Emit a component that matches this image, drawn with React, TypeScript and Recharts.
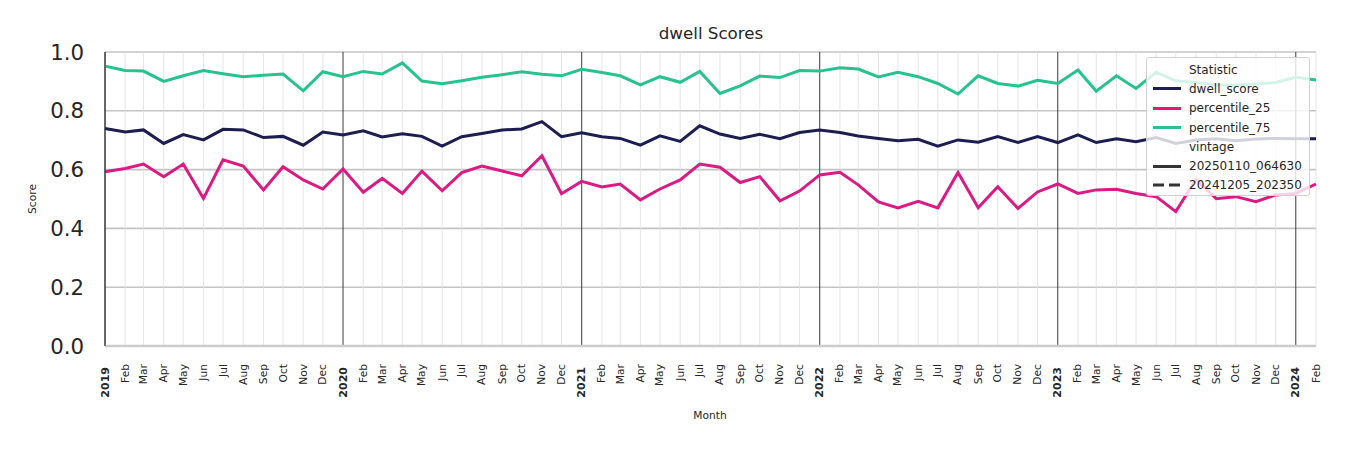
import React from "react";
import { LineChart, Line, XAxis, YAxis, CartesianGrid, Legend } from "recharts";

const months = [
  "2019-01","2019-02","2019-03","2019-04","2019-05","2019-06","2019-07","2019-08","2019-09","2019-10","2019-11","2019-12",
  "2020-01","2020-02","2020-03","2020-04","2020-05","2020-06","2020-07","2020-08","2020-09","2020-10","2020-11","2020-12",
  "2021-01","2021-02","2021-03","2021-04","2021-05","2021-06","2021-07","2021-08","2021-09","2021-10","2021-11","2021-12",
  "2022-01","2022-02","2022-03","2022-04","2022-05","2022-06","2022-07","2022-08","2022-09","2022-10","2022-11","2022-12",
  "2023-01","2023-02","2023-03","2023-04","2023-05","2023-06","2023-07","2023-08","2023-09","2023-10","2023-11","2023-12",
  "2024-01","2024-02",
];

const monthLabels = [
  "2019","Feb","Mar","Apr","May","Jun","Jul","Aug","Sep","Oct","Nov","Dec",
  "2020","Feb","Mar","Apr","May","Jun","Jul","Aug","Sep","Oct","Nov","Dec",
  "2021","Feb","Mar","Apr","May","Jun","Jul","Aug","Sep","Oct","Nov","Dec",
  "2022","Feb","Mar","Apr","May","Jun","Jul","Aug","Sep","Oct","Nov","Dec",
  "2023","Feb","Mar","Apr","May","Jun","Jul","Aug","Sep","Oct","Nov","Dec",
  "2024","Feb",
];

const dwellScore = [
  0.740, 0.728, 0.735, 0.689, 0.719, 0.701, 0.737, 0.735, 0.709, 0.713, 0.683, 0.728,
  0.718, 0.732, 0.711, 0.722, 0.713, 0.680, 0.712, 0.723, 0.735, 0.738, 0.763, 0.712,
  0.725, 0.712, 0.706, 0.683, 0.715, 0.696, 0.749, 0.721, 0.706, 0.720, 0.705, 0.726,
  0.735, 0.726, 0.714, 0.706, 0.698, 0.703, 0.680, 0.701, 0.693, 0.712, 0.692, 0.712,
  0.692, 0.718, 0.692, 0.705, 0.695, 0.709, 0.689, 0.701, 0.705, 0.698, 0.704, 0.706,
  0.705, 0.705,
];

const percentile25 = [
  0.593, 0.604, 0.619, 0.576, 0.619, 0.502, 0.633, 0.612, 0.531, 0.610, 0.565, 0.534,
  0.602, 0.523, 0.570, 0.519, 0.595, 0.528, 0.590, 0.612, 0.595, 0.579, 0.647, 0.518,
  0.560, 0.541, 0.551, 0.497, 0.534, 0.565, 0.619, 0.608, 0.556, 0.576, 0.494, 0.527,
  0.582, 0.591, 0.548, 0.490, 0.470, 0.492, 0.470, 0.590, 0.470, 0.542, 0.468, 0.524,
  0.551, 0.519, 0.531, 0.533, 0.519, 0.508, 0.457, 0.567, 0.501, 0.508, 0.491, 0.514,
  0.519, 0.551,
];

const percentile75 = [
  0.952, 0.937, 0.935, 0.900, 0.919, 0.937, 0.926, 0.916, 0.921, 0.925, 0.868, 0.933,
  0.916, 0.934, 0.925, 0.963, 0.901, 0.892, 0.902, 0.914, 0.923, 0.933, 0.924, 0.919,
  0.941, 0.930, 0.919, 0.888, 0.916, 0.897, 0.934, 0.859, 0.885, 0.918, 0.913, 0.937,
  0.935, 0.946, 0.942, 0.915, 0.931, 0.916, 0.893, 0.857, 0.919, 0.893, 0.884, 0.904,
  0.893, 0.939, 0.867, 0.919, 0.876, 0.931, 0.902, 0.896, 0.888, 0.888, 0.891, 0.896,
  0.914, 0.905,
];

const yTicks = [0, 0.2, 0.4, 0.6, 0.8, 1.0];

const seriesNames = ["dwell_score", "percentile_25", "percentile_75"];
const seriesColors = ["#1c1d50", "#db1a84", "#27c28e"];
const vintages = ["20250110_064630", "20241205_202350"];

const DAY = 86400000;
const origin = Date.UTC(2019, 0, 1);
const toDay = (m: string) => {
  const [y, mo] = m.split("-").map(Number);
  return Math.round((Date.UTC(y, mo - 1, 1) - origin) / DAY);
};

const xTicks = months.map(toDay);
const labelByDay: Record<number, string> = {};
xTicks.forEach((d, i) => (labelByDay[d] = monthLabels[i]));

const data = months.map((m, i) => ({
  t: toDay(m),
  dwell_score: dwellScore[i],
  percentile_25: percentile25[i],
  percentile_75: percentile75[i],
}));

const FONT = "'DejaVu Sans', sans-serif";

const XTick = (props: any) => {
  const { x, y, payload } = props;
  const label = labelByDay[payload.value] ?? "";
  const isYear = /^\d{4}$/.test(label);
  return (
    <text
      transform={`translate(${x},${y + (isYear ? 13 : 10)}) rotate(-90)`}
      textAnchor="end"
      dominantBaseline="central"
      fontSize={isYear ? 11 : 10.7}
      fontWeight={isYear ? "bold" : "normal"}
      fontFamily={FONT}
      fill="#262626"
    >
      {label}
    </text>
  );
};

const vLine = (props: any) => {
  const { x1, y1, x2, y2, index } = props;
  const isYear = index % 12 === 0;
  return (
    <line
      key={`v-${index}`}
      x1={x1}
      y1={y1}
      x2={x2}
      y2={y2}
      stroke={isYear ? "#3a3a3a" : "#e0e0e0"}
      strokeWidth={isYear ? 1 : 0.8}
    />
  );
};

const hLine = (props: any) => {
  const { x1, y1, x2, y2, index } = props;
  if (y1 > 344) return <g key={`h-${index}`} />;
  return (
    <line
      key={`h-${index}`}
      x1={x1}
      y1={y1}
      x2={x2}
      y2={y2}
      stroke="#c4c4c4"
      strokeWidth={1.6}
    />
  );
};

const LegendBox = () => {
  const row = (swatch: React.ReactNode, text: string) => (
    <div style={{ display: "flex", alignItems: "center", height: 19.3 }}>
      <div style={{ width: 28, marginRight: 8, display: "flex", alignItems: "center" }}>{swatch}</div>
      <span>{text}</span>
    </div>
  );
  const solid = (c: string) => <div style={{ width: 28, height: 3, background: c }} />;
  const dashed = (c: string) => (
    <svg width={28} height={4}>
      <line x1={0} y1={2} x2={28} y2={2} stroke={c} strokeWidth={3} strokeDasharray="11 5" />
    </svg>
  );
  return (
    <div
      style={{
        position: "absolute",
        left: 1146,
        top: 57,
        width: 164,
        height: 139,
        boxSizing: "border-box",
        background: "rgba(255,255,255,0.8)",
        border: "1px solid #d0d0d0",
        borderRadius: 3,
        padding: "2px 0 0 6px",
        fontFamily: FONT,
        fontSize: 12,
        color: "#262626",
        lineHeight: "14px",
      }}
    >
      {row(null, "Statistic")}
      {seriesNames.map((n, i) => (
        <React.Fragment key={n}>{row(solid(seriesColors[i]), n)}</React.Fragment>
      ))}
      {row(null, "vintage")}
      {row(solid("#333333"), vintages[0])}
      {row(dashed("#333333"), vintages[1])}
    </div>
  );
};

export default function App() {
  return (
    <div style={{ position: "relative", width: 1350, height: 450, margin: "-8px 0 0 -8px", fontFamily: FONT }}>
      <LineChart
        width={1350}
        height={450}
        data={data}
        margin={{ top: 52, right: 34, bottom: 44, left: 45 }}
      >
        <CartesianGrid vertical={vLine} horizontal={hLine} />
        <XAxis
          dataKey="t"
          type="number"
          domain={[0, xTicks[xTicks.length - 1]]}
          ticks={xTicks}
          interval={0}
          height={60}
          tick={<XTick />}
          tickLine={false}
          axisLine={{ stroke: "#cccccc", strokeWidth: 2.5 }}
        />
        <YAxis
          domain={[0, 1]}
          ticks={yTicks}
          width={60}
          tickLine={false}
          tickSize={0}
          tickMargin={21}
          axisLine={{ stroke: "#333333", strokeWidth: 1 }}
          tickFormatter={(v: number) => v.toFixed(1)}
          tick={{ fontSize: 21.3, fill: "#262626", fontFamily: FONT }}
        />
        {seriesNames.map((n, i) => (
          <Line
            key={n}
            type="linear"
            dataKey={n}
            stroke={seriesColors[i]}
            strokeWidth={3}
            dot={false}
            activeDot={false}
            isAnimationActive={false}
          />
        ))}
        <Legend content={() => null} />
      </LineChart>
      <div
        style={{
          position: "absolute",
          left: 0,
          width: 1422,
          top: 23,
          textAlign: "center",
          fontSize: 16.7,
          color: "#262626",
          lineHeight: "20px",
        }}
      >
        dwell Scores
      </div>
      <div
        style={{
          position: "absolute",
          left: 0,
          width: 1420,
          top: 409,
          textAlign: "center",
          fontSize: 10.7,
          color: "#262626",
          lineHeight: "14px",
        }}
      >
        Month
      </div>
      <div
        style={{
          position: "absolute",
          left: 33,
          top: 199,
          transform: "translate(-50%, -50%) rotate(-90deg)",
          fontSize: 10.7,
          color: "#262626",
          lineHeight: "14px",
          whiteSpace: "nowrap",
        }}
      >
        Score
      </div>
      <LegendBox />
    </div>
  );
}
